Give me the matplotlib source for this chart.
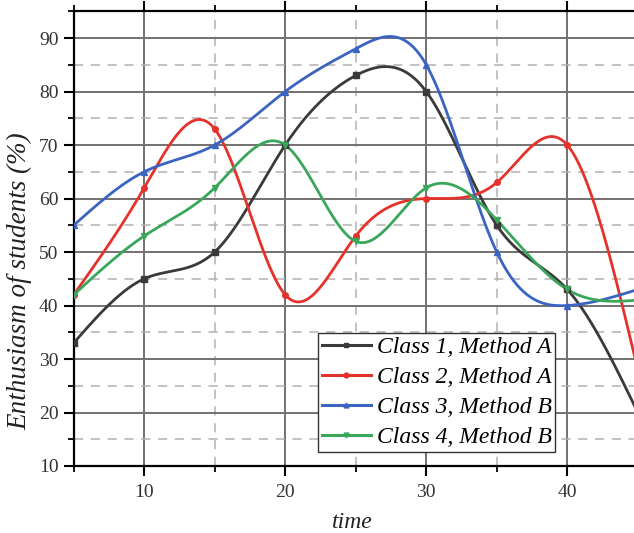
import numpy as np
import matplotlib
matplotlib.use("Agg")
import matplotlib.pyplot as plt
from matplotlib.ticker import MultipleLocator
from matplotlib.lines import Line2D

# data
time = [5, 10, 15, 20, 25, 30, 35, 40, 45]
class1_a = [33, 45, 50, 70, 83, 80, 55, 43, 20]
class2_a = [42, 62, 73, 42, 53, 60, 63, 70, 28]
class3_b = [55, 65, 70, 80, 88, 85, 50, 40, 43]
class4_b = [42, 53, 62, 70, 52, 62, 56, 43, 41]

labels = ["Class 1, Method A", "Class 2, Method A",
          "Class 3, Method B", "Class 4, Method B"]
colors = ["#3a3a3a", "#e5322b", "#3b64c2", "#3aa65a"]
markers = ["s", "o", "^", "v"]


def natural_spline(x, y, num=500):
    # smooth connecting curve through the data points (like Origin's spline)
    x = np.asarray(x, float)
    y = np.asarray(y, float)
    n = len(x)
    h = np.diff(x)
    A = np.zeros((n, n))
    r = np.zeros(n)
    A[0, 0] = A[-1, -1] = 1
    for i in range(1, n - 1):
        A[i, i - 1] = h[i - 1]
        A[i, i] = 2 * (h[i - 1] + h[i])
        A[i, i + 1] = h[i]
        r[i] = 3 * ((y[i + 1] - y[i]) / h[i] - (y[i] - y[i - 1]) / h[i - 1])
    c = np.linalg.solve(A, r)
    b = (y[1:] - y[:-1]) / h - h * (c[1:] + 2 * c[:-1]) / 3
    d = (c[1:] - c[:-1]) / (3 * h)
    xs = np.linspace(x[0], x[-1], num)
    idx = np.clip(np.searchsorted(x, xs, side="right") - 1, 0, n - 2)
    dx = xs - x[idx]
    ys = y[idx] + b[idx] * dx + c[idx] * dx ** 2 + d[idx] * dx ** 3
    return xs, ys


W, H = 634, 533
fig = plt.figure(figsize=(W / 100, H / 100), dpi=100)

left_px, bottom_px, top_px = 73.7, 466, 11.3
ax = fig.add_axes([left_px / W, (H - bottom_px) / H,
                   1.0 - left_px / W + 0.002, (bottom_px - top_px) / H])

px_per_unit = 14.07
ax.set_xlim(5, 5 + (W - left_px) / px_per_unit)
ax.set_ylim(10, 95)

series = [class1_a, class2_a, class3_b, class4_b]
for vals, lab, col, mk in zip(series, labels, colors, markers):
    xs, ys = natural_spline(time, vals)
    ax.plot(xs, ys, color=col, lw=2, zorder=3)
    ax.plot(time, vals, linestyle="none", marker=mk, ms=4, color=col, zorder=4)

ax.xaxis.set_major_locator(MultipleLocator(10))
ax.xaxis.set_minor_locator(MultipleLocator(5))
ax.yaxis.set_major_locator(MultipleLocator(10))
ax.yaxis.set_minor_locator(MultipleLocator(5))

ax.grid(which="major", color="#757070", lw=1.4, ls="-", zorder=1)
ax.grid(which="minor", color="#b4b0b0", lw=1.1, ls=(0, (6, 5)), zorder=1)

for s in ["left", "bottom", "top"]:
    ax.spines[s].set_linewidth(1.6)
    ax.spines[s].set_color("black")
ax.spines["right"].set_visible(False)

ax.tick_params(which="major", direction="out", length=7, width=1.5,
               top=True, right=False, labelsize=14, labelcolor="#333333")
ax.tick_params(which="minor", direction="out", length=4, width=1.3,
               top=True, right=False)
ax.tick_params(axis="x", pad=6)
ax.tick_params(axis="y", pad=4)
for t in ax.get_xticklabels() + ax.get_yticklabels():
    t.set_fontfamily("Liberation Serif")

fig.text(20 / W, (H - 281) / H, "Enthusiasm of students (%)", rotation=90,
         ha="center", va="center", fontsize=19.5, fontstyle="italic",
         family="Liberation Serif", color="#222222")
fig.text(352 / W, (H - 522) / H, "time", ha="center", va="center",
         fontsize=17, fontstyle="italic", family="Liberation Serif",
         color="#222222")

handles = [Line2D([], [], color=c, lw=2.2, marker=m, ms=3.5)
           for c, m in zip(colors, markers)]
leg = ax.legend(handles, labels, loc="lower left",
                bbox_to_anchor=(318 / W, (H - 452) / H),
                bbox_transform=fig.transFigure, borderaxespad=0,
                prop={"family": "Liberation Serif", "style": "italic", "size": 17},
                handlelength=2.1, handletextpad=0.25, labelspacing=0.36,
                borderpad=0.15, fancybox=False, framealpha=1,
                edgecolor="#333333")
leg.get_frame().set_linewidth(1.0)
leg.set_zorder(5)

fig.savefig("out.png", dpi=100)
